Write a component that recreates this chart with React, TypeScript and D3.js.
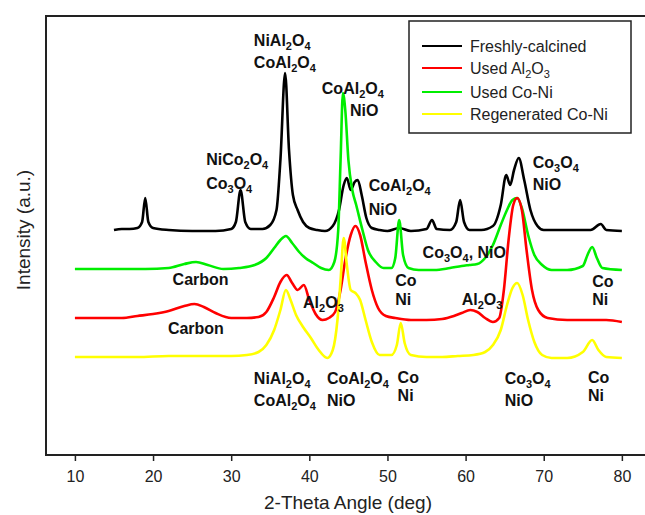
import React, { useEffect, useRef } from 'react';
import * as d3 from 'd3';

// XRD patterns, stacked intensity (a.u.) vs 2-theta (deg)
const freshlyCalcined: [number, number][] = [
  [15, 225], [16, 226], [17, 226], [18, 227], [18.6, 233], [19, 257], [19.4, 233], [20, 227],
  [22, 225], [25, 224], [28, 224], [30, 226], [30.6, 233], [31.2, 265], [31.8, 233], [32.5, 226],
  [34, 226], [35, 230], [35.8, 245], [36.3, 295], [36.9, 382], [37.4, 305], [37.9, 260], [38.5, 245],
  [39.2, 233], [40, 227], [41, 225], [42, 224], [43, 229], [43.8, 245], [44.4, 270], [44.8, 277],
  [45.3, 265], [45.8, 273], [46.2, 275], [46.7, 260], [47.3, 237], [48, 227], [49, 225], [50, 224],
  [51.5, 227], [53, 224], [55, 226], [55.7, 235], [56.3, 226], [58, 225], [58.8, 233], [59.3, 255],
  [59.8, 233], [60.5, 225], [62, 225], [63.5, 229], [64.5, 250], [65.2, 280], [65.7, 270], [66.2, 285],
  [66.8, 297], [67.5, 275], [68.3, 245], [69.2, 229], [70, 225], [73, 225], [76, 225], [77.3, 231],
  [78, 225], [80, 224],
];

const usedCoNi: [number, number][] = [
  [10, 186], [13, 186], [16, 186], [19, 186], [22, 187], [24, 191],
  [25.5, 193], [27, 190], [29, 186], [31, 187], [33, 190], [34.5, 197], [35.5, 207], [36.3, 215],
  [37, 219], [37.8, 212], [38.7, 203], [39.5, 197], [40.5, 192], [41.5, 187], [42.5, 185], [43.2, 193],
  [43.7, 225], [44, 295], [44.3, 362], [44.6, 345], [45, 295], [45.5, 265], [46, 250], [46.8, 225],
  [47.5, 205], [48.5, 193], [49.5, 187], [50.5, 187], [51, 197], [51.5, 235], [52, 200], [52.7, 187],
  [54, 185], [56, 185], [58, 187], [59.5, 189], [60.5, 190], [61.5, 191], [62.5, 197], [63.5, 210],
  [64.5, 230], [65.3, 245], [66, 255], [66.6, 257], [67.2, 247], [68, 220], [68.8, 200], [69.8, 190],
  [71, 185], [73, 185], [75, 189], [75.6, 200], [76.2, 208], [76.8, 197], [77.5, 187], [80, 185],
];

const usedAl2O3: [number, number][] = [
  [10, 137], [13, 137], [16, 137], [18, 139], [20, 141], [22, 144], [24, 149],
  [25.3, 151], [26.5, 148], [28, 142], [30, 137], [32, 137], [33.5, 138], [34.5, 143], [35.5, 158],
  [36.3, 173], [37.1, 180], [37.8, 172], [38.5, 165], [39.3, 170], [40, 155], [40.8, 141], [41.7, 135],
  [42.5, 137], [43.3, 143], [44, 165], [44.6, 195], [45.3, 220], [45.9, 229], [46.5, 220], [47.2, 193],
  [48, 165], [48.8, 147], [49.8, 139], [51, 137], [53, 135], [55, 135], [57, 136], [58.5, 139],
  [59.5, 142], [60.6, 145], [61.5, 143], [62.5, 137], [63.5, 133], [64.3, 137], [64.9, 165], [65.5, 215],
  [66.1, 250], [66.6, 257], [67.2, 245], [67.8, 205], [68.5, 165], [69.3, 145], [70.5, 137], [73, 135],
  [76, 135], [78, 135], [80, 133],
];

const regeneratedCoNi: [number, number][] = [
  [10, 98], [14, 98], [18, 98], [22, 99],
  [26, 99], [30, 99], [32, 100], [33.5, 103], [34.5, 110], [35.5, 125], [36.3, 145],
  [37, 165], [37.6, 155], [38.3, 140], [39.2, 128], [40.2, 117], [41.2, 105], [42.3, 97], [43, 105],
  [43.6, 135], [44, 175], [44.4, 217], [44.8, 190], [45.3, 165], [45.9, 162], [46.5, 155], [47.2, 135],
  [48, 113], [49, 100], [50.5, 100], [51.2, 110], [51.7, 132], [52.2, 112], [53, 100], [55, 98],
  [57, 98], [59, 99], [61, 100], [62.5, 103], [63.5, 110], [64.5, 125], [65.3, 150], [66, 167],
  [66.6, 172], [67.3, 160], [68, 135], [68.8, 113], [69.8, 100], [71, 97], [73, 97], [75, 103],
  [76.2, 115], [77, 105], [78, 98], [80, 97],
];

const seriesNames = ['Freshly-calcined', 'Used Al_2O_3', 'Used Co-Ni', 'Regenerated Co-Ni'];
const seriesColors = ['#000000', '#ff0000', '#00ee00', '#ffff00'];
const xTicks = [10, 20, 30, 40, 50, 60, 70, 80];

// peak labels: [text, 2-theta, intensity]
const peakLabels: [string, number, number][] = [
  ['NiAl_2O_4', 32.9, 409], ['CoAl_2O_4', 32.9, 387],
  ['CoAl_2O_4', 41.6, 361], ['NiO', 45.2, 339],
  ['NiCo_2O_4', 26.8, 290], ['Co_3O_4', 26.8, 266],
  ['CoAl_2O_4', 47.6, 264], ['NiO', 47.6, 240],
  ['Co_3O_4', 68.6, 287], ['NiO', 68.6, 265],
  ['Co_3O_4, NiO', 54.5, 197],
  ['Co', 51.0, 169], ['Ni', 51.0, 150],
  ['Co', 76.2, 168], ['Ni', 76.2, 150],
  ['Carbon', 22.5, 170], ['Carbon', 21.9, 121],
  ['Al_2O_3', 39.2, 147], ['Al_2O_3', 59.5, 150],
  ['NiAl_2O_4', 32.9, 71], ['CoAl_2O_4', 32.9, 49],
  ['CoAl_2O_4', 42.25, 71], ['NiO', 42.25, 49],
  ['Co', 51.3, 72], ['Ni', 51.3, 54],
  ['Co_3O_4', 65.0, 71], ['NiO', 65.0, 49],
  ['Co', 75.65, 72], ['Ni', 75.65, 54],
];

const W = 645, H = 515;
const margin = { left: 46, top: 16, right: 650, bottom: 455 };

function Sub({ text, size }: { text: string; size: number }) {
  // turn "Al_2O_3" into tspans with subscripts
  const parts = text.split(/(_\d)/).filter((p) => p !== '');
  const sub = Math.round(size * 0.68);
  return (
    <>
      {parts.map((p, i) =>
        p.startsWith('_') ? (
          <tspan key={i} fontSize={sub} dy={4}>{p.slice(1)}</tspan>
        ) : (
          <tspan key={i} dy={i > 0 ? -4 : 0}>{p}</tspan>
        )
      )}
    </>
  );
}

export default function App() {
  const axisRef = useRef<SVGGElement>(null);

  const x = d3.scaleLinear().domain([6.3, 83.6]).range([margin.left, margin.right]);
  const y = d3.scaleLinear().domain([0, 439]).range([margin.bottom, margin.top]);

  const line = d3.line<[number, number]>()
    .x((d) => x(d[0]))
    .y((d) => y(d[1]))
    .curve(d3.curveMonotoneX);

  useEffect(() => {
    const g = d3.select(axisRef.current);
    g.selectAll('*').remove();
    g.call(d3.axisBottom(x).tickValues(xTicks).tickSize(6).tickPadding(10).tickFormat(d3.format('d')));
    g.select('.domain').remove();
    g.selectAll('.tick line').attr('stroke', '#222').attr('stroke-width', 1.5);
    g.selectAll('.tick text')
      .attr('font-family', 'Liberation Sans, Arial, sans-serif')
      .attr('font-size', 16)
      .attr('fill', '#222');
  }, []);

  // draw order: black, green, red, yellow
  const drawOrder = [
    { data: freshlyCalcined, color: seriesColors[0] },
    { data: usedCoNi, color: seriesColors[2] },
    { data: usedAl2O3, color: seriesColors[1] },
    { data: regeneratedCoNi, color: seriesColors[3] },
  ];

  return (
    <svg width={W} height={H} style={{ position: 'absolute', left: 0, top: 0, background: '#fff' }}
      fontFamily="Liberation Sans, Arial, sans-serif">
      {drawOrder.map((s, i) => (
        <path key={i} d={line(s.data) || ''} fill="none" stroke={s.color} strokeWidth={2.6} strokeLinejoin="round" />
      ))}

      {/* frame */}
      <path d={`M${margin.right},${margin.top}H${margin.left}V${margin.bottom}H${margin.right}`}
        fill="none" stroke="#222" strokeWidth={2} />
      <g ref={axisRef} transform={`translate(0,${margin.bottom})`} />

      {peakLabels.map(([t, a, v], i) => (
        <text key={i} x={x(a)} y={y(v)} fontSize={16} fontWeight="bold" fill="#111">
          <Sub text={t} size={16} />
        </text>
      ))}

      {/* legend */}
      <rect x={409} y={21} width={222} height={112} fill="#fff" stroke="#222" strokeWidth={1.5} />
      {seriesNames.map((n, i) => {
        const ly = [46, 68, 92, 114][i];
        return (
          <g key={n}>
            <line x1={422} x2={462} y1={ly} y2={ly} stroke={seriesColors[i]} strokeWidth={2} />
            <text x={470} y={ly + 6} fontSize={16} fill="#222">
              <Sub text={n} size={16} />
            </text>
          </g>
        );
      })}

      <text x={348} y={509} textAnchor="middle" fontSize={19} fill="#222">2-Theta Angle (deg)</text>
      <text transform={`translate(30,${230}) rotate(-90)`} textAnchor="middle" fontSize={19} fill="#222">
        Intensity (a.u.)
      </text>
    </svg>
  );
}
